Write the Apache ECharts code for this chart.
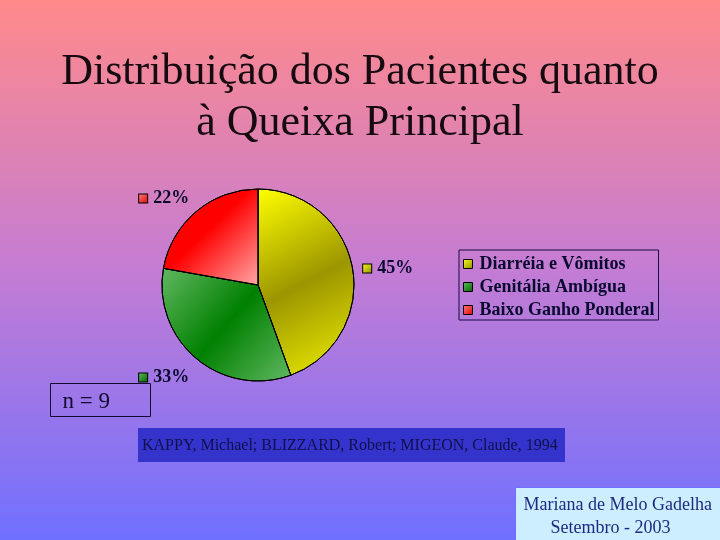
<!DOCTYPE html>
<html lang="pt">
<head>
  <meta charset="UTF-8">
  <title>Queixa Principal</title>
  <script src="https://cdn.jsdelivr.net/npm/echarts@6/dist/echarts.min.js"></script>
  <style>
    *{margin:0;padding:0;}
    body{width:720px;height:540px;}
    .container{
      width:720px;
      height:540px;
      background:linear-gradient(to bottom,#ff8a8a 0%,#c47cd4 50%,#6f70ff 100%);
    }
  </style>
</head>
<body>
  <div class="container"></div>

  <script type="text/javascript">
    // dados
    var categorias = ['Diarréia e Vômitos', 'Genitália Ambígua', 'Baixo Ganho Ponderal']
    var pacientes = [4, 3, 2]
    var rotulos = ['45%', '33%', '22%']
    // ajuste fino dos rótulos (dx, dy)
    var ajuste = [[-17, 4], [13, 2], [13, 4]]

    // gradientes das fatias
    var G = echarts.graphic.LinearGradient
    var cores = [
      new G(0, 0, 1, 1, [
        { offset: 0, color: '#ffff00' },
        { offset: 0.5, color: '#9c9600' },
        { offset: 1, color: '#eeee00' }
      ]),
      new G(0, 0, 1, 1, [
        { offset: 0, color: '#62b862' },
        { offset: 0.5, color: '#008000' },
        { offset: 1, color: '#62b862' }
      ]),
      new G(0, 0, 1, 1, [
        { offset: 0, color: '#ff0000' },
        { offset: 0.45, color: '#ff0000' },
        { offset: 1, color: '#ffa8a8' }
      ])
    ]
    var icones = [
      new G(0, 0, 1, 1, [{ offset: 0, color: '#ffff20' }, { offset: 1, color: '#8a8a00' }]),
      new G(0, 0, 1, 1, [{ offset: 0, color: '#60c060' }, { offset: 1, color: '#006000' }]),
      new G(0, 0, 1, 1, [{ offset: 0, color: '#ff8080' }, { offset: 1, color: '#e00000' }])
    ]

    var dados = categorias.map(function (c, i) {
      return {
        name: c,
        value: pacientes[i],
        itemStyle: { color: cores[i] },
        label: {
          formatter: '{q|}{t|' + rotulos[i] + '}',
          rich: {
            q: {
              width: 8, height: 8,
              backgroundColor: icones[i],
              borderColor: '#000', borderWidth: 1
            },
            t: {
              fontFamily: 'Liberation Serif', fontWeight: 'bold',
              fontSize: 18, color: '#0a0a30', padding: [0, 0, 0, 6]
            }
          }
        }
      }
    })

    var serif = 'Liberation Serif'
    const mCharts = echarts.init(document.querySelector('.container'))
    var option = {
      backgroundColor: 'transparent',
      title: {
        text: 'Distribuição dos Pacientes quanto\nà Queixa Principal',
        left: 'center',
        top: 42,
        textStyle: {
          fontFamily: serif, fontWeight: 'normal',
          fontSize: 44, lineHeight: 51, color: '#140a10'
        }
      },
      legend: {
        orient: 'vertical',
        left: 459, top: 250,
        width: 200,
        padding: [4, 4, 0, 4],
        itemGap: 3,
        itemWidth: 9, itemHeight: 9,
        icon: 'rect',
        borderColor: '#140a40', borderWidth: 1,
        itemStyle: { borderColor: '#000', borderWidth: 1 },
        textStyle: {
          fontFamily: serif, fontWeight: 'bold',
          fontSize: 18, lineHeight: 20, color: '#0a0a30', padding: [0, 0, 0, 2]
        },
        data: categorias.map(function (c, i) {
          return { name: c, itemStyle: { color: icones[i] } }
        })
      },
      graphic: [
        {
          type: 'group', left: 50, top: 383,
          children: [
            { type: 'rect', shape: { width: 100, height: 33 },
              style: { fill: 'transparent', stroke: '#140a30', lineWidth: 1 } },
            { type: 'text', left: 12, top: 7,
              style: { text: 'n = 9', font: '23px "Liberation Serif"', fill: '#140a30' } }
          ]
        },
        {
          type: 'group', left: 138, top: 428,
          children: [
            { type: 'rect', shape: { width: 427, height: 34 },
              style: { fill: '#3434cc' } },
            { type: 'text', left: 4, top: 10,
              style: { text: 'KAPPY, Michael; BLIZZARD, Robert; MIGEON, Claude, 1994',
                font: '16px "Liberation Serif"', fill: '#10104a' } }
          ]
        },
        {
          type: 'group', left: 515, top: 487,
          children: [
            { type: 'rect', shape: { width: 205, height: 53 },
              style: { fill: '#cdeeff', stroke: '#6f70ff', lineWidth: 1 } },
            { type: 'text', left: 8, top: 6,
              style: { text: 'Mariana de Melo Gadelha\n      Setembro - 2003',
                font: '18px "Liberation Serif"', lineHeight: 23, fill: '#1c2a80' } }
          ]
        }
      ],
      series: [
        {
          type: 'pie',
          center: [258, 285],
          radius: 96,
          startAngle: 90,
          clockwise: true,
          avoidLabelOverlap: false,
          itemStyle: { borderColor: '#000', borderWidth: 1 },
          label: { position: 'outside', distanceToLabelLine: 2 },
          labelLine: { show: false, length: 22, length2: 4 },
          labelLayout: function (p) {
            return { dx: ajuste[p.dataIndex][0], dy: ajuste[p.dataIndex][1] }
          },
          emphasis: { disabled: true },
          data: dados
        }
      ]
    }
    mCharts.setOption(option)
    window.onresize = mCharts.resize
  </script>
</body>
</html>
